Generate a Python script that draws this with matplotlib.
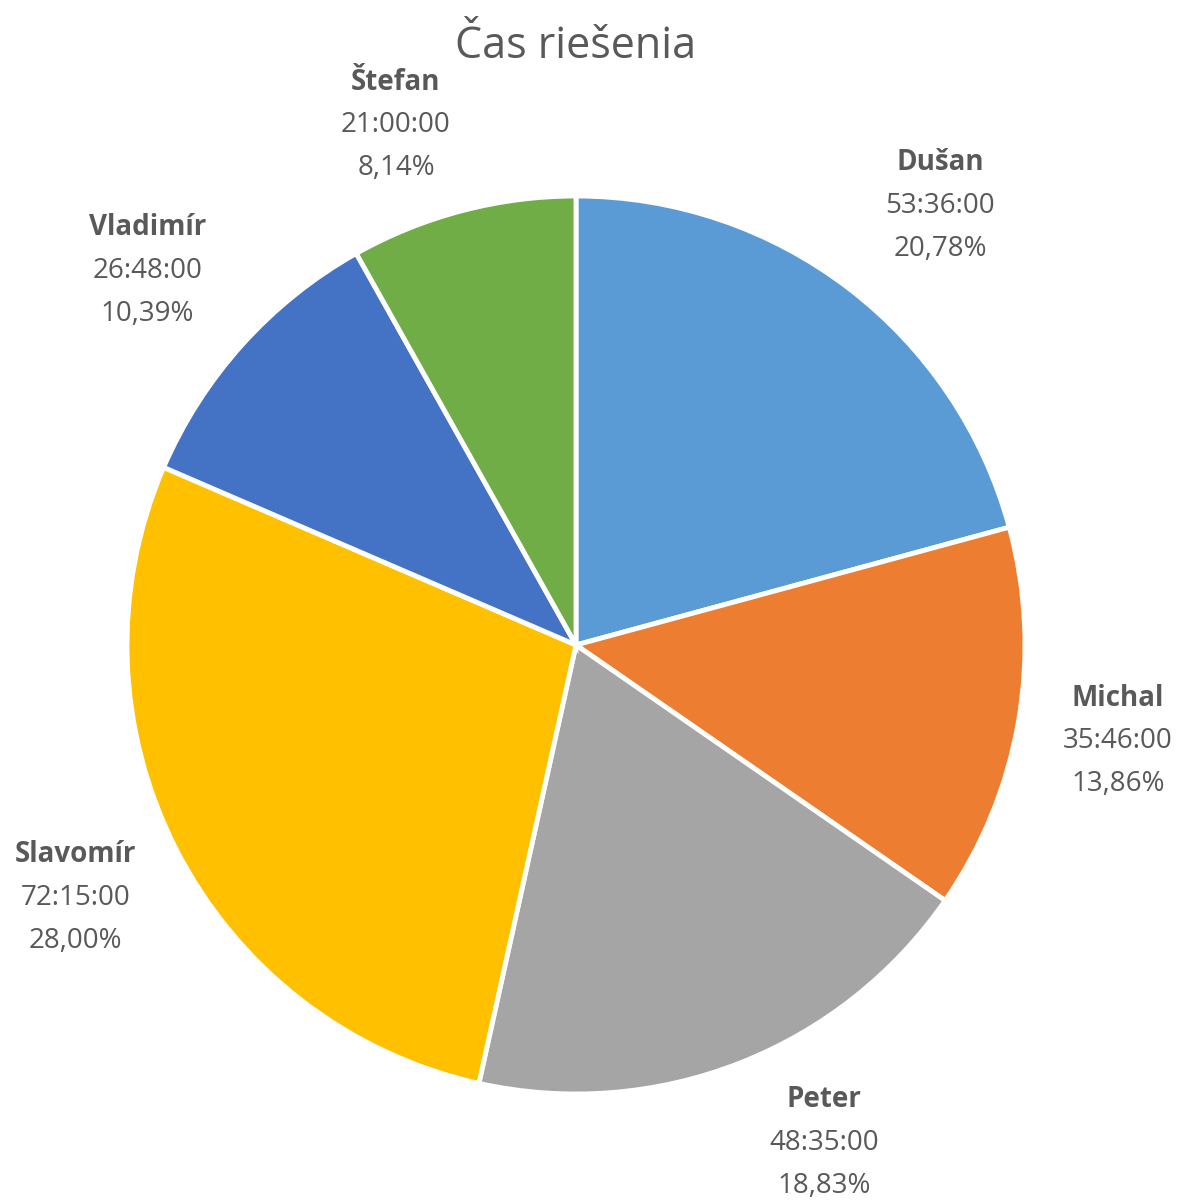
import matplotlib.pyplot as plt

names = ["Dušan", "Michal", "Peter", "Slavomír", "Vladimír", "Štefan"]
times = ["53:36:00", "35:46:00", "48:35:00", "72:15:00", "26:48:00", "21:00:00"]
percents = ["20,78%", "13,86%", "18,83%", "28,00%", "10,39%", "8,14%"]
colors = ["#5B9BD5", "#ED7D31", "#A5A5A5", "#FFC000", "#4472C4", "#70AD47"]

# where each label block sits, in pie radii from the centre (best-fit layout)
label_xy = [(0.811, 0.978), (1.207, -0.214), (0.552, -1.109),
            (-1.114, -0.563), (-0.955, 0.833), (-0.401, 1.158)]


def to_hours(t):
    h, m, s = (int(p) for p in t.split(":"))
    return h + m / 60 + s / 3600


hours = [to_hours(t) for t in times]

plt.rcParams['font.family'] = ['Open Sans', 'DejaVu Sans']
text_color = "#595959"

fig = plt.figure(figsize=(11.87, 12.04), dpi=100)
# square axes around the pie (center ~ 576,645 px, radius ~449 px)
ax = fig.add_axes([127 / 1187, 110 / 1204, 898 / 1187, 898 / 1204])
wedges, _ = ax.pie(hours, colors=colors, startangle=90, counterclock=False,
                   wedgeprops=dict(edgecolor="white", linewidth=3.5))
ax.set_xlim(-1, 1)
ax.set_ylim(-1, 1)
ax.axis("off")

step = 43 / 449
for (x, y), n, t, p in zip(label_xy, names, times, percents):
    ax.text(x, y + step, n, ha="center", va="center", fontsize=20,
            fontweight="bold", color=text_color)
    ax.text(x, y, t, ha="center", va="center", fontsize=20, color=text_color)
    ax.text(x, y - step, p, ha="center", va="center", fontsize=20, color=text_color)

fig.text(576 / 1187, 1 - 47 / 1204, "Čas riešenia", ha="center", va="center",
         fontsize=31, color=text_color)

fig.savefig("out.png", dpi=100, facecolor="white")
